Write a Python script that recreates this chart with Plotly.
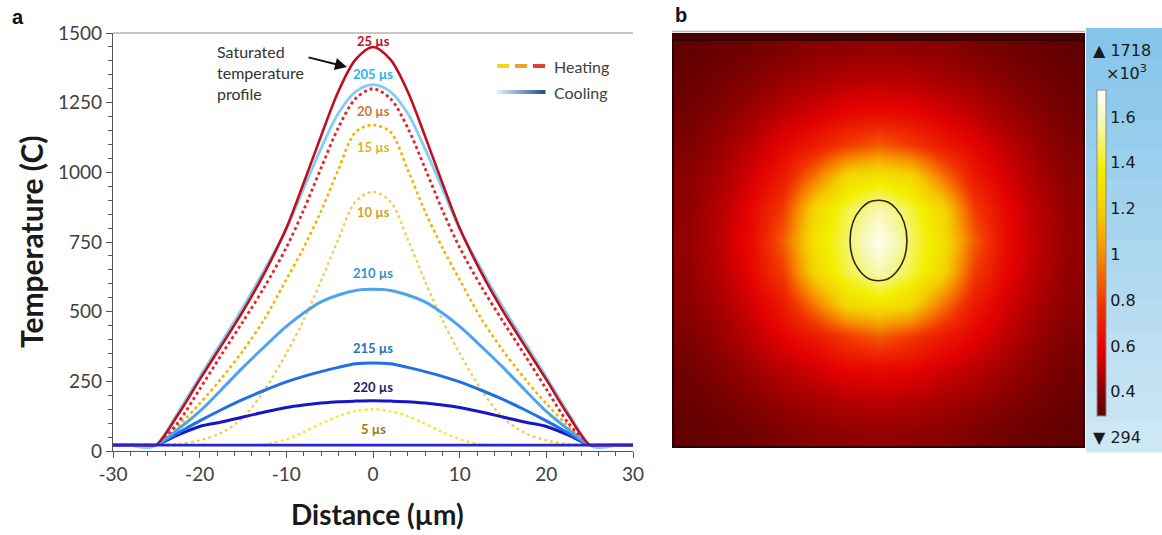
import numpy as np
import plotly.graph_objects as go

W, H = 1162, 535


def px(x):
    return x / W


def py(y):
    return 1 - y / H


# ---------------- panel a data (symmetric half-profiles, distance in µm) ----------------
x_half = [0, 2, 4, 6, 8, 10, 12.5, 15, 17.5, 20, 22.5, 25, 26, 28, 30]

t_5us = [150, 143, 125, 98, 68, 42, 24, 21, 21, 21, 21, 21, 21, 21, 21]
t_10us = [930, 895, 760, 610, 470, 350, 220, 120, 65, 38, 25, 22, 21, 21, 21]
t_15us = [1170, 1145, 1010, 860, 730, 615, 475, 360, 260, 170, 90, 22, 21, 21, 21]
t_20us = [1300, 1265, 1160, 1015, 865, 730, 590, 465, 345, 222, 102, 22, 21, 21, 21]
t_25us = [1450, 1405, 1290, 1130, 962, 800, 640, 502, 378, 256, 130, 22, 21, 21, 21]
t_205us = [1315, 1290, 1212, 1085, 942, 795, 652, 516, 390, 266, 138, 22, 12, 19, 21]
t_210us = [580, 576, 560, 535, 495, 447, 375, 300, 220, 142, 78, 22, 21, 21, 21]
t_215us = [316, 313, 300, 285, 268, 248, 218, 185, 148, 108, 65, 22, 21, 21, 21]
t_220us = [180, 179, 177, 172, 165, 156, 140, 122, 104, 88, 58, 22, 21, 21, 21]
t_ambient = [21, 21, 21, 21, 21, 21, 21, 21, 21, 21, 21, 21, 21, 21, 21]

x_ticks = [-30, -20, -10, 0, 10, 20, 30]
x_ticktext = ["-30", "-20", "-10", "0", "10", "20", "30"]
y_ticks = [0, 250, 500, 750, 1000, 1250, 1500]

# ---------------- panel b data (temperature map, ×10^3 K), one quadrant from centre ----------------
# rows: vertical steps from centre, columns: horizontal steps from centre
map_quadrant = [
    [1.70, 1.49, 1.30, 0.88, 0.62, 0.50, 0.42],
    [1.58, 1.456, 1.24, 0.80, 0.60, 0.49, 0.41],
    [1.32, 1.25, 0.95, 0.68, 0.55, 0.46, 0.40],
    [0.88, 0.80, 0.68, 0.59, 0.50, 0.43, 0.37],
    [0.62, 0.60, 0.55, 0.50, 0.44, 0.39, 0.34],
    [0.50, 0.49, 0.46, 0.43, 0.39, 0.35, 0.32],
    [0.42, 0.41, 0.40, 0.37, 0.34, 0.32, 0.30],
]
map_min, map_max = 0.294, 1.718
melt_level = 1.512
cbar_ticks = [0.4, 0.6, 0.8, 1.0, 1.2, 1.4, 1.6]
cbar_ticktext = ["0.4", "0.6", "0.8", "1", "1.2", "1.4", "1.6"]


def mirror(xh, vals):
    xs = [-v for v in reversed(xh[1:])] + list(xh)
    ys = list(reversed(vals[1:])) + list(vals)
    return xs, ys


# (label, values, color, dash, width, label colour, label offset in °C from peak)
series = [
    ("5 µs", t_5us, "#f5e63a", "dot", 2.4, "#9c7c12", -72),
    ("10 µs", t_10us, "#f0cd5a", "dot", 2.4, "#d2a21e", -72),
    ("15 µs", t_15us, "#f2b400", "dot", 2.6, "#e5b21e", -80),
    ("20 µs", t_20us, "#e4232e", "dot", 2.8, "#c9783a", -80),
    ("220 µs", t_220us, "#1616c8", "solid", 3.0, "#1b1f6e", 50),
    ("215 µs", t_215us, "#1f6fe6", "solid", 3.0, "#2273c6", 54),
    ("210 µs", t_210us, "#4da3ee", "solid", 3.0, "#2f95d0", 58),
    ("205 µs", t_205us, "#84cdf4", "solid", 2.8, "#2ab3e6", 38),
    ("25 µs", t_25us, "#c30d1a", "solid", 2.6, "#c0101e", 20),
    ("ambient", t_ambient, "#2626d6", "solid", 2.6, None, 0),
]

fig = go.Figure()

for name, vals, col, dash, wdt, lcol, loff in series:
    xs, ys = mirror(x_half, vals)
    fig.add_trace(go.Scatter(
        x=xs, y=ys, mode="lines", name=name,
        line=dict(color=col, width=wdt, dash=dash, shape="spline", smoothing=0.9),
        xaxis="x", yaxis="y", showlegend=False, hoverinfo="skip"))
    if lcol:
        fig.add_annotation(x=0, y=max(vals) + loff, xref="x", yref="y", text=name,
                           xanchor="center", yanchor="middle",
                           showarrow=False, font=dict(family="Lato", size=13, color=lcol, weight="bold"))

# ---------------- panel b traces ----------------
q = np.array(map_quadrant)
top = np.vstack([q[::-1], q[1:]])          # mirror rows
full = np.hstack([top[:, ::-1], top[:, 1:]])  # mirror columns
n = full.shape[0]
grid = np.arange(n)

heat_scale = [
    [0.0, "#5e0000"], [0.08, "#8e0000"], [0.20, "#e30000"], [0.34, "#f23300"],
    [0.49, "#f68a00"], [0.62, "#f4cb00"], [0.76, "#f3ef00"], [0.89, "#f6f6a8"],
    [1.0, "#ffffff"]]

fig.add_trace(go.Heatmap(
    z=full, x=grid, y=grid, xaxis="x2", yaxis="y2", zsmooth="best", showlegend=False,
    colorscale=heat_scale, zmin=map_min, zmax=map_max, hoverinfo="skip",
    colorbar=dict(x=px(1097), xanchor="left", y=py(253), yanchor="middle",
                  len=(416 - 90) / H, thickness=9, xpad=0, ypad=0,
                  outlinewidth=1, outlinecolor="#8a8a8a",
                  tickvals=cbar_ticks, ticktext=cbar_ticktext, ticks="",
                  tickfont=dict(family="DejaVu Sans", size=16, color="#1a1a1a"))))
fig.add_trace(go.Contour(
    z=full, x=grid, y=grid, xaxis="x2", yaxis="y2", showscale=False, showlegend=False,
    contours=dict(start=melt_level, end=melt_level, size=0.1, coloring="none"),
    line=dict(color="#2a2a1c", width=1.6, smoothing=1.3), hoverinfo="skip"))

axis_font = dict(family="Lato", size=19, color="#404040")
fig.update_layout(
    width=W, height=H, margin=dict(l=0, r=0, t=0, b=0, autoexpand=False),
    showlegend=False,
    paper_bgcolor="white", plot_bgcolor="white",
    xaxis=dict(domain=[px(113), px(633)], range=[-30, 30], tickmode="array", tickvals=x_ticks,
               ticktext=x_ticktext,
               ticks="outside", ticklen=6, tickwidth=1.3, tickcolor="#555", showline=True,
               linecolor="#555", linewidth=1.3, showgrid=False, zeroline=False, tickfont=axis_font,
               minor=dict(tickmode="linear", tick0=-30, dtick=2, ticks="outside", ticklen=4,
                          tickcolor="#555", tickwidth=1.2),
               anchor="y", automargin=False),
    yaxis=dict(domain=[py(451), py(33)], range=[0, 1500], tickmode="array", tickvals=y_ticks,
               ticks="outside", ticklen=6, tickwidth=1.3, tickcolor="#555", showline=True,
               linecolor="#555", linewidth=1.3, showgrid=False, zeroline=False, tickfont=axis_font,
               minor=dict(tickmode="linear", tick0=0, dtick=50, ticks="outside", ticklen=4,
                          tickcolor="#555", tickwidth=1.2),
               anchor="x", automargin=False),
    xaxis2=dict(domain=[px(672), px(1085)], range=[-0.5, n - 0.5], visible=False, anchor="y2"),
    yaxis2=dict(domain=[py(448), py(33)], range=[-0.5, n - 0.5], visible=False, anchor="x2"),
)

# ---------------- decorations ----------------
shapes = []
# top frame line of panel a
shapes.append(dict(type="line", xref="paper", yref="paper", x0=px(113), x1=px(633), y0=py(33), y1=py(33),
                   line=dict(color="#b4b4b4", width=1.5)))
# colour-bar background (light blue gradient)
bg_top = np.array([0x86, 0xc5, 0xea])
bg_bot = np.array([0xcd, 0xe7, 0xf5])
nstripe = 14
for i in range(nstripe):
    f = i / (nstripe - 1)
    c = (bg_top * (1 - f) + bg_bot * f).astype(int)
    y0 = 28 + i * (452 - 28) / nstripe
    y1 = 28 + (i + 1) * (452 - 28) / nstripe + 0.6
    shapes.append(dict(type="rect", xref="paper", yref="paper", x0=px(1086), x1=px(1162),
                       y0=py(y1), y1=py(y0), fillcolor="rgb(%d,%d,%d)" % tuple(c), line=dict(width=0),
                       layer="below"))
# frame of the map
shapes.append(dict(type="rect", xref="paper", yref="paper", x0=px(672), x1=px(1085), y0=py(33), y1=py(40),
                   fillcolor="#4a0000", line=dict(width=0)))
shapes.append(dict(type="rect", xref="paper", yref="paper", x0=px(673), x1=px(1084), y0=py(447), y1=py(40),
                   fillcolor="rgba(0,0,0,0)", line=dict(color="#2a0000", width=2)))
shapes.append(dict(type="line", xref="paper", yref="paper", x0=px(672), x1=px(1085), y0=py(31.5), y1=py(31.5),
                   line=dict(color="#c8b0b0", width=1.5)))
# legend symbols: Heating (dashed yellow -> red), Cooling (gradient light -> dark blue)
for (a, b), col in zip([(497, 509), (515, 527), (533, 545)], ["#f8d21a", "#f0a228", "#d9462a"]):
    shapes.append(dict(type="line", xref="paper", yref="paper", x0=px(a), x1=px(b), y0=py(66), y1=py(66),
                       line=dict(color=col, width=4)))
c_left = np.array([0xdc, 0xea, 0xf6])
c_right = np.array([0x25, 0x55, 0x8e])
nseg = 16
for i in range(nseg):
    f = i / (nseg - 1)
    c = (c_left * (1 - f) + c_right * f).astype(int)
    a = 497 + i * (545 - 497) / nseg
    b = 497 + (i + 1) * (545 - 497) / nseg + 0.5
    shapes.append(dict(type="line", xref="paper", yref="paper", x0=px(a), x1=px(b), y0=py(92), y1=py(92),
                       line=dict(color="rgb(%d,%d,%d)" % tuple(c), width=4)))
fig.update_layout(shapes=shapes)

ann = []
ann.append(dict(text="Heating", x=px(552), y=py(66), xanchor="left", yanchor="middle",
                font=dict(family="Lato", size=16, color="#404040")))
ann.append(dict(text="Cooling", x=px(552), y=py(92), xanchor="left", yanchor="middle",
                font=dict(family="Lato", size=16, color="#404040")))
ann.append(dict(text="Saturated<br>temperature<br>profile", x=px(215), y=py(40),
                xanchor="left", yanchor="top", align="left",
                font=dict(family="Lato", size=16, color="#333333")))
ann.append(dict(text="Temperature (C)", x=px(31), y=py(242), textangle=-90, xanchor="center", yanchor="middle",
                font=dict(family="Lato", size=30, color="#1a1a1a", weight="bold")))
ann.append(dict(text="Distance (µm)", x=px(377), y=py(514), xanchor="center", yanchor="middle",
                font=dict(family="Lato", size=28, color="#1a1a1a", weight="bold")))
ann.append(dict(text="a", x=px(18), y=py(17), xanchor="center", yanchor="middle",
                font=dict(family="Liberation Sans", size=20, color="#111", weight="bold")))
ann.append(dict(text="b", x=px(681), y=py(15), xanchor="center", yanchor="middle",
                font=dict(family="Liberation Sans", size=20, color="#111", weight="bold")))
ann.append(dict(text="▲ 1718", x=px(1091), y=py(50), xanchor="left", yanchor="middle",
                font=dict(family="DejaVu Sans", size=16, color="#1a1a1a")))
ann.append(dict(text="×10<sup>3</sup>", x=px(1104), y=py(73), xanchor="left", yanchor="middle",
                font=dict(family="DejaVu Sans", size=16, color="#1a1a1a")))
ann.append(dict(text="▼ 294", x=px(1091), y=py(437), xanchor="left", yanchor="middle",
                font=dict(family="DejaVu Sans", size=16, color="#1a1a1a")))
for a_ in ann:
    fig.add_annotation(xref="paper", yref="paper", showarrow=False, **a_)

# arrow pointing at the saturated (25 µs) profile
fig.add_annotation(text="", x=-3.0, y=1378, xref="x", yref="y", ax=-40, ay=-10, showarrow=True,
                   arrowhead=2, arrowsize=1.2, arrowwidth=2, arrowcolor="#111111")

fig.write_html("out.html", config={"displayModeBar": False},
               post_script="document.body.style.margin='0';document.body.style.overflow='hidden';")
